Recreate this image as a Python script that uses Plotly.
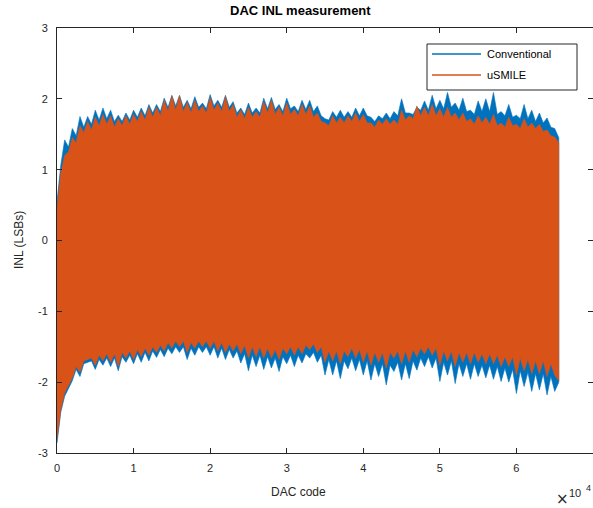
import plotly.graph_objects as go

# DAC codes where the envelopes were read (every 500 codes, plus last code)
codes = list(range(0, 65001, 500)) + [65535]

conv_hi = [0.55, 1.07, 1.42, 1.32, 1.58, 1.48, 1.75, 1.60, 1.75, 1.64, 1.84, 1.70, 1.87, 1.72, 1.84, 1.68, 1.77, 1.68, 1.80, 1.70,
           1.84, 1.74, 1.87, 1.76, 1.92, 1.80, 1.92, 1.82, 2.01, 1.88, 2.05, 1.90, 2.05, 1.88, 1.98, 1.86, 2.03, 1.88, 1.94, 1.86,
           2.06, 1.90, 1.98, 1.88, 2.05, 1.88, 1.96, 1.80, 1.87, 1.78, 1.94, 1.80, 1.87, 1.80, 2.01, 1.86, 2.02, 1.85, 1.92, 1.82,
           2.01, 1.86, 1.90, 1.82, 1.98, 1.85, 1.98, 1.82, 1.90, 1.76, 1.72, 1.70, 1.82, 1.74, 1.84, 1.74, 1.82, 1.74, 1.87, 1.76,
           1.87, 1.76, 1.74, 1.68, 1.76, 1.72, 1.80, 1.72, 1.82, 1.76, 2.00, 1.80, 1.80, 1.78, 1.88, 1.84, 1.97, 1.84, 2.05, 1.86,
           1.98, 1.86, 2.09, 1.88, 1.94, 1.84, 2.01, 1.82, 1.84, 1.78, 1.97, 1.82, 2.00, 1.82, 2.09, 1.78, 1.82, 1.76, 1.92, 1.74,
           1.77, 1.72, 1.92, 1.72, 1.84, 1.68, 1.80, 1.66, 1.73, 1.60, 1.58, 1.45]

conv_lo = [-2.86, -2.42, -2.20, -2.08, -1.98, -1.82, -1.92, -1.74, -1.72, -1.70, -1.82, -1.68, -1.76, -1.66, -1.78, -1.66, -1.84, -1.64, -1.72, -1.62,
           -1.74, -1.60, -1.72, -1.58, -1.70, -1.56, -1.65, -1.54, -1.64, -1.52, -1.60, -1.50, -1.58, -1.50, -1.68, -1.52, -1.62, -1.50, -1.58, -1.50,
           -1.62, -1.50, -1.66, -1.52, -1.68, -1.54, -1.66, -1.56, -1.73, -1.60, -1.84, -1.62, -1.78, -1.62, -1.82, -1.64, -1.80, -1.66, -1.85, -1.64,
           -1.74, -1.62, -1.78, -1.62, -1.73, -1.60, -1.66, -1.58, -1.72, -1.62, -1.90, -1.68, -1.90, -1.70, -1.95, -1.70, -1.81, -1.66, -1.84, -1.68,
           -1.90, -1.70, -1.97, -1.74, -1.92, -1.74, -2.04, -1.76, -1.85, -1.72, -1.97, -1.74, -1.95, -1.70, -1.83, -1.66, -1.78, -1.64, -1.80, -1.66,
           -1.99, -1.72, -1.90, -1.70, -2.02, -1.74, -1.92, -1.74, -1.96, -1.74, -1.92, -1.76, -1.94, -1.76, -1.96, -1.78, -1.99, -1.80, -2.00, -1.82,
           -2.16, -1.84, -2.06, -1.86, -2.13, -1.88, -2.11, -1.88, -2.18, -1.92, -2.13, -2.00]

usmile_hi = [0.45, 0.95, 1.20, 1.25, 1.45, 1.38, 1.62, 1.52, 1.68, 1.56, 1.74, 1.62, 1.78, 1.64, 1.76, 1.60, 1.72, 1.62, 1.76, 1.64,
             1.78, 1.68, 1.82, 1.70, 1.88, 1.74, 1.88, 1.76, 1.98, 1.82, 2.04, 1.84, 2.04, 1.82, 1.95, 1.80, 1.98, 1.82, 1.90, 1.80,
             2.02, 1.84, 1.94, 1.82, 2.03, 1.82, 1.92, 1.74, 1.84, 1.72, 1.88, 1.74, 1.82, 1.74, 1.96, 1.80, 1.98, 1.78, 1.88, 1.76,
             1.94, 1.78, 1.85, 1.76, 1.92, 1.78, 1.90, 1.74, 1.80, 1.68, 1.66, 1.62, 1.76, 1.66, 1.74, 1.66, 1.76, 1.68, 1.80, 1.68,
             1.78, 1.66, 1.66, 1.60, 1.70, 1.64, 1.72, 1.64, 1.70, 1.64, 1.84, 1.70, 1.76, 1.72, 1.90, 1.76, 1.88, 1.76, 1.92, 1.76,
             1.86, 1.74, 1.88, 1.74, 1.80, 1.70, 1.80, 1.68, 1.72, 1.64, 1.76, 1.66, 1.74, 1.64, 1.78, 1.62, 1.66, 1.60, 1.74, 1.62,
             1.64, 1.58, 1.72, 1.60, 1.66, 1.58, 1.64, 1.54, 1.56, 1.48, 1.46, 1.38]

usmile_lo = [-2.80, -2.38, -2.15, -2.04, -1.94, -1.78, -1.86, -1.70, -1.68, -1.66, -1.76, -1.62, -1.70, -1.60, -1.72, -1.60, -1.78, -1.58, -1.66, -1.56,
             -1.68, -1.54, -1.64, -1.52, -1.62, -1.50, -1.58, -1.48, -1.56, -1.44, -1.52, -1.42, -1.50, -1.42, -1.58, -1.44, -1.52, -1.42, -1.50, -1.42,
             -1.52, -1.42, -1.56, -1.44, -1.58, -1.46, -1.56, -1.46, -1.60, -1.48, -1.66, -1.50, -1.64, -1.50, -1.66, -1.52, -1.66, -1.54, -1.68, -1.52,
             -1.60, -1.50, -1.62, -1.50, -1.60, -1.48, -1.54, -1.46, -1.58, -1.50, -1.72, -1.56, -1.70, -1.56, -1.74, -1.56, -1.64, -1.52, -1.66, -1.54,
             -1.72, -1.56, -1.76, -1.58, -1.72, -1.58, -1.80, -1.58, -1.66, -1.56, -1.74, -1.56, -1.72, -1.54, -1.64, -1.52, -1.60, -1.50, -1.62, -1.52,
             -1.76, -1.56, -1.70, -1.56, -1.78, -1.58, -1.72, -1.58, -1.74, -1.58, -1.72, -1.60, -1.74, -1.60, -1.74, -1.62, -1.78, -1.64, -1.78, -1.64,
             -1.90, -1.66, -1.84, -1.68, -1.88, -1.70, -1.88, -1.70, -1.92, -1.74, -1.90, -1.98]

series_names = ["Conventional", "uSMILE"]
series_colors = ["#0072BD", "#D95319"]
x_tick_vals = [0, 10000, 20000, 30000, 40000, 50000, 60000, 70000]
x_tick_text = ["0", "1", "2", "3", "4", "5", "6", "7"]
y_tick_vals = [-3, -2, -1, 0, 1, 2, 3]
y_tick_text = ["-3", "-2", "-1", "0", "1", "2", "3"]

FONT = "Liberation Sans, Arial, Helvetica, sans-serif"
TXT = "#262626"

fig = go.Figure()
for hi, lo, name, col in [(conv_hi, conv_lo, series_names[0], series_colors[0]),
                          (usmile_hi, usmile_lo, series_names[1], series_colors[1])]:
    fig.add_trace(go.Scatter(
        x=codes + codes[::-1], y=hi + lo[::-1], mode="lines", fill="toself",
        fillcolor=col, line=dict(color=col, width=0.6), name=name, showlegend=False,
        hoverinfo="skip"))

# plot area in pixels: left 57, right 593, top 28, bottom 453
L, R, T, B = 57, 593, 28, 453
W, H = R - L, B - T
def px(x):
    return (x - L) / W
def py(y):
    return (B - y) / H

axis_common = dict(showline=True, linecolor=TXT, linewidth=1, mirror="ticks", ticks="inside",
                   ticklen=5, tickcolor=TXT, tickwidth=1, showgrid=False, zeroline=False,
                   tickfont=dict(family=FONT, size=11, color=TXT))

fig.update_layout(
    width=593, height=508, autosize=False,
    margin=dict(l=L, r=593 - R, t=T, b=508 - B, pad=0),
    paper_bgcolor="white", plot_bgcolor="white",
    font=dict(family=FONT, color=TXT),
    xaxis=dict(range=[0, 70000], tickvals=x_tick_vals, ticktext=x_tick_text,
               ticklabelstandoff=5, **axis_common),
    yaxis=dict(range=[-3, 3], tickvals=y_tick_vals, ticktext=y_tick_text,
               ticklabelstandoff=6, **axis_common),
    showlegend=False,
)

annotations = [
    dict(text="<b>DAC INL measurement</b>", x=px(300), y=py(10), xref="paper", yref="paper",
         showarrow=False, xanchor="center", yanchor="middle", font=dict(family=FONT, size=13, color="black")),
    dict(text="DAC code", x=px(298), y=py(492), xref="paper", yref="paper",
         showarrow=False, xanchor="center", yanchor="middle", font=dict(family=FONT, size=12, color=TXT)),
    dict(text="INL (LSBs)", x=px(19), y=py(240), xref="paper", yref="paper", textangle=-90,
         showarrow=False, xanchor="center", yanchor="middle", font=dict(family=FONT, size=12, color=TXT)),
    dict(text="×", x=px(554), y=py(499), xref="paper", yref="paper",
         showarrow=False, xanchor="left", yanchor="middle", font=dict(family="DejaVu Sans, sans-serif", size=15, color=TXT)),
    dict(text="10", x=px(567), y=py(493), xref="paper", yref="paper",
         showarrow=False, xanchor="left", yanchor="middle", font=dict(family=FONT, size=11, color=TXT)),
    dict(text="4", x=px(584), y=py(488), xref="paper", yref="paper",
         showarrow=False, xanchor="left", yanchor="middle", font=dict(family=FONT, size=9, color=TXT)),
]
shapes = [
    dict(type="rect", xref="paper", yref="paper", x0=px(427), x1=px(577), y0=py(90), y1=py(44),
         line=dict(color=TXT, width=1), fillcolor="white", layer="above"),
]
for i, (name, col) in enumerate(zip(series_names, series_colors)):
    yy = [54, 75][i]
    shapes.append(dict(type="line", xref="paper", yref="paper", x0=px(432), x1=px(481),
                       y0=py(yy), y1=py(yy), line=dict(color=col, width=1.5), layer="above"))
    annotations.append(dict(text=name, x=px(485), y=py(yy), xref="paper", yref="paper",
                            showarrow=False, xanchor="left", yanchor="middle",
                            font=dict(family=FONT, size=11, color="black")))

fig.update_layout(annotations=annotations, shapes=shapes)
fig.write_html("out.html", config={"displayModeBar": False})
